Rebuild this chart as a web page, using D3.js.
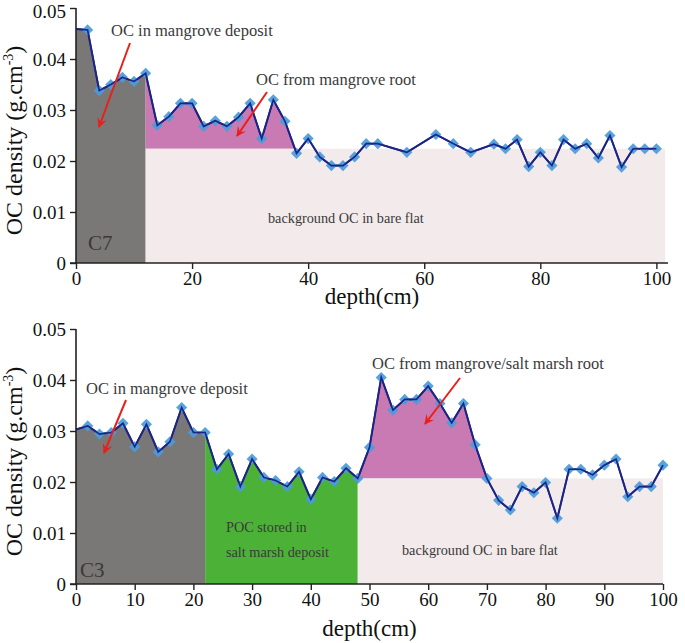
<!DOCTYPE html>
<html><head><meta charset="utf-8">
<script src="https://cdn.jsdelivr.net/npm/d3@7"></script>
<style>
body{margin:0;background:#fff;}
svg{display:block;font-family:"Liberation Serif","Times New Roman",serif;}
</style></head>
<body><svg id="c" width="685" height="643"></svg>
<script>
// ---- Data: core C7 (top) ----
const depthC7 = [0,2,4,6,8,10,12,14,16,18,20,22,24,26,28,30,32,34,36,38,40,42,44,46,48,50,52,57,62,65,68,72,74,76,78,80,82,84,86,88,90,92,94,96,98,100];
const ocC7 = [0.0459,0.0457,0.0338,0.0350,0.0364,0.0356,0.0372,0.0270,0.0287,0.0313,0.0313,0.0268,0.0279,0.0268,0.0286,0.0313,0.0244,0.0320,0.0278,0.0215,0.0244,0.0208,0.0191,0.0191,0.0208,0.0234,0.0234,0.0217,0.0252,0.0234,0.0217,0.0233,0.0224,0.0242,0.0189,0.0217,0.0191,0.0242,0.0224,0.0234,0.0206,0.0250,0.0188,0.0224,0.0224,0.0224];
// ---- Data: core C3 (bottom) ----
const depthC3 = [0,2,4,6,8,10,12,14,16,18,20,22,24,26,28,30,32,34,36,38,40,42,44,46,48,50,52,54,56,58,60,62,64,66,68,70,72,74,76,78,80,82,84,86,88,90,92,94,96,98,100];
const ocC3 = [0.0303,0.0310,0.0294,0.0297,0.0315,0.0269,0.0313,0.0259,0.0279,0.0346,0.0297,0.0297,0.0225,0.0255,0.0191,0.0245,0.0209,0.0203,0.0191,0.0220,0.0166,0.0209,0.0201,0.0227,0.0207,0.0268,0.0405,0.0341,0.0362,0.0362,0.0388,0.0354,0.0316,0.0354,0.0273,0.0207,0.0164,0.0145,0.0191,0.0179,0.0199,0.0129,0.0225,0.0225,0.0214,0.0233,0.0245,0.0171,0.0191,0.0191,0.0233];
// Zone boundaries (depth, cm) and background OC levels
const zonesC7 = {mangrove:[0,12], root:[12,38], bare:[12,101.5]};
const bgC7 = 0.0224;
const zonesC3 = {mangrove:[0,22], marsh:[22,48], root:[48,70], bare:[48,100]};
const bgC3 = 0.0207;
const xTicksC7 = [0,20,40,60,80,100];
const xTicksC3 = [0,10,20,30,40,50,60,70,80,90,100];
const yTicks = [0,0.01,0.02,0.03,0.04,0.05];

const C = {dark:"#7a7777", pink:"#c97ab3", light:"#f2eaeb", green:"#4cb137", line:"#1c2586", marker:"#4a9bdb", red:"#e8201c", txt:"#3a3a3a"};
const svg = d3.select("#c");
const defs = svg.append("defs");
defs.append("marker").attr("id","ah").attr("viewBox","0 0 10 10").attr("refX",9).attr("refY",5)
  .attr("markerWidth",5).attr("markerHeight",5).attr("orient","auto-start-reverse")
  .append("path").attr("d","M0,0 L10,5 L0,10 L4,5 Z").attr("fill",C.red);
let clipN = 0;

function panel(o){
  const g = svg.append("g");
  const x = d3.scaleLinear().domain(o.xDomain).range(o.xRange);
  const y = d3.scaleLinear().domain([0,0.05]).range(o.yRange);
  const pts = o.depth.map((d,i)=>({d, v:o.oc[i]}));
  const curve = d3.curveLinear;
  function clipRect(x0,x1){
    const id = "cl"+(clipN++);
    defs.append("clipPath").attr("id",id).append("rect")
      .attr("x",x(x0)).attr("width",x(x1)-x(x0)).attr("y",o.yRange[1]-5).attr("height",o.yRange[0]-o.yRange[1]+5);
    return "url(#"+id+")";
  }
  function fillArea(z, base, color){
    const a = d3.area().x(p=>x(p.d)).y0(y(base)).y1(p=>y(p.v)).curve(curve);
    g.append("path").attr("d",a(pts)).attr("fill",color).attr("clip-path",clipRect(z[0],z[1]));
  }
  o.fills.forEach(f=>fillArea(f.z,f.base,f.color));
  // bare flat background
  g.append("rect").attr("x",x(o.bare[0])).attr("width",x(o.bare[1])-x(o.bare[0]))
    .attr("y",y(o.bg)).attr("height",y(0)-y(o.bg)).attr("fill",C.light);
  // line
  const line = d3.line().x(p=>x(p.d)).y(p=>y(p.v)).curve(curve);
  g.append("path").attr("d",line(pts)).attr("fill","none").attr("stroke",C.line).attr("stroke-width",2);
  // markers
  const sym = d3.symbol(d3.symbolSquare, 62);
  g.selectAll(".mk").data(pts.filter(p=>p.d>0)).join("path")
    .attr("d",sym()).attr("fill",C.marker).attr("opacity",0.92)
    .attr("transform",p=>`translate(${x(p.d)},${y(p.v)}) rotate(45)`);
  g.append("path").attr("d",line(pts)).attr("fill","none").attr("stroke",C.line).attr("stroke-width",1.6);
  // axes
  const ya = g.append("g").attr("transform",`translate(${o.xRange[0]},0)`)
    .call(d3.axisLeft(y).tickValues(yTicks).tickFormat(v=>v===0?"0":d3.format(".2f")(v)).tickSize(6).tickPadding(4));
  const xa = g.append("g").attr("transform",`translate(0,${o.yRange[0]})`)
    .call(d3.axisBottom(x).tickValues(o.xTicks).tickSize(6).tickPadding(3));
  [ya,xa].forEach(a=>{
    a.select(".domain").attr("stroke","#222").attr("stroke-width",1.6);
    a.selectAll(".tick line").attr("stroke","#222").attr("stroke-width",1.4);
    a.selectAll("text").attr("font-family","Liberation Serif").attr("font-size",19).attr("fill","#111");
  });
  ya.selectAll("text").attr("dy","0.36em");
  if(o.topLabelDy) ya.selectAll(".tick").filter(v=>v===0.05).select("text").attr("dy",o.topLabelDy);
  xa.select(".domain").attr("d",`M${o.xRange[0]-6},0H${o.xRange[1]}`);
  ya.select(".domain").attr("d",`M0,${o.yRange[1]}V${o.yRange[0]}`);
  // titles
  g.append("text").attr("x",(o.xRange[0]+o.xRange[1])/2).attr("y",o.yRange[0]+o.titleOff)
    .attr("text-anchor","middle").attr("font-size",23).attr("fill","#111").text("depth(cm)");
  const yt = g.append("text").attr("transform",`translate(22,${(o.yRange[0]+o.yRange[1])/2+5}) rotate(-90)`)
    .attr("text-anchor","middle").attr("font-size",24).attr("fill","#111");
  yt.append("tspan").text("OC density (g.cm");
  yt.append("tspan").attr("font-size",14).attr("dy",-9).text("-3");
  yt.append("tspan").attr("dy",9).text(")");
  // labels
  o.labels.forEach(l=>{
    const t = g.append("text").attr("x",l.x).attr("y",l.y).attr("font-size",l.size||16).attr("fill",l.color||C.txt);
    if(l.sx) t.attr("transform",`translate(${l.x},${l.y}) scale(${l.sx},1) translate(${-l.x},${-l.y})`);
    t.text(l.t);
  });
  o.arrows.forEach(a=>{
    g.append("line").attr("x1",a[0]).attr("y1",a[1]).attr("x2",a[2]).attr("y2",a[3])
      .attr("stroke",C.red).attr("stroke-width",2).attr("marker-end","url(#ah)");
  });
}

panel({
  depth:depthC7, oc:ocC7, xDomain:[0,102], xRange:[76,668], yRange:[263,8], xTicks:xTicksC7, titleOff:41, topLabelDy:"0.5em",
  fills:[{z:zonesC7.mangrove, base:0, color:C.dark},{z:zonesC7.root, base:bgC7, color:C.pink}],
  bare:zonesC7.bare, bg:bgC7,
  labels:[
    {t:"OC  in mangrove deposit", x:111, y:36, size:16.5},
    {t:"OC from mangrove root", x:256, y:85, size:16.5},
    {t:"background OC  in bare flat", x:268, y:223, size:15.5, sx:0.92},
    {t:"C7", x:88, y:250, size:21, color:"#3a3838"}
  ],
  arrows:[[130,43,99,127],[267,92,237,136]]
});
panel({
  depth:depthC3, oc:ocC3, xDomain:[0,100], xRange:[76,663], yRange:[584,329], xTicks:xTicksC3, titleOff:52,
  fills:[{z:zonesC3.mangrove, base:0, color:C.dark},{z:zonesC3.marsh, base:0, color:C.green},{z:zonesC3.root, base:bgC3, color:C.pink}],
  bare:zonesC3.bare, bg:bgC3,
  labels:[
    {t:"OC  in mangrove deposit", x:86, y:394, size:16.5},
    {t:"OC from mangrove/salt marsh root", x:372, y:369, size:16.5},
    {t:"POC stored in", x:226, y:532, size:15.5, sx:0.92},
    {t:"salt marsh deposit", x:226, y:557, size:15.5, sx:0.92},
    {t:"background OC in bare flat", x:402, y:555, size:15.5, sx:0.92},
    {t:"C3", x:80, y:577, size:21, color:"#3a3838"}
  ],
  arrows:[[126,400,104,453],[460,378,425,424]]
});
</script></body></html>
